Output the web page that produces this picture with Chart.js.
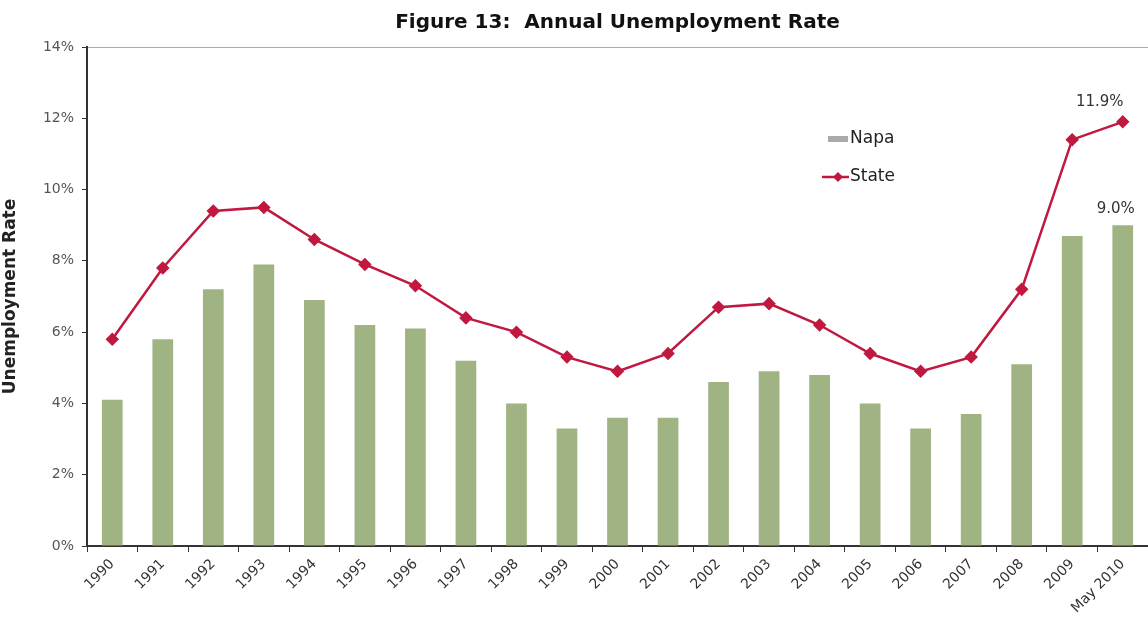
<!doctype html>
<html lang="en">
  <head>
    <meta charset="utf-8">
    <title>Annual Unemployment Rate</title>
    <style>
      * {
        margin: 0;
        padding: 0;
      }
      body {
        background: #ffffff;
      }
      .chartBox {
        width: 1148px;
        height: 632px;
      }
    </style>
  </head>
  <body>
    <div class="chartBox">
      <canvas id="myChart"></canvas>
    </div>
    <script src="https://cdn.jsdelivr.net/npm/chart.js"></script>
    <script>

    // data
    const years = ['1990','1991','1992','1993','1994','1995','1996','1997','1998','1999','2000',
                   '2001','2002','2003','2004','2005','2006','2007','2008','2009','May 2010'];
    const napa  = [4.1, 5.8, 7.2, 7.9, 6.9, 6.2, 6.1, 5.2, 4.0, 3.3, 3.6,
                   3.6, 4.6, 4.9, 4.8, 4.0, 3.3, 3.7, 5.1, 8.7, 9.0];
    const state = [5.8, 7.8, 9.4, 9.5, 8.6, 7.9, 7.3, 6.4, 6.0, 5.3, 4.9,
                   5.4, 6.7, 6.8, 6.2, 5.4, 4.9, 5.3, 7.2, 11.4, 11.9];
    const yTicks = [0, 2, 4, 6, 8, 10, 12, 14];

    const FONT = "'DejaVu Sans', sans-serif";
    const RED = '#c0183f';
    const GREEN = '#9fb482';

    // legend drawn inside the plot + value labels on the last points
    const extras = {
      id: 'extras',
      afterDatasetsDraw(chart) {
        const c = chart.ctx;
        const a = chart.chartArea;
        c.save();
        c.font = '17px ' + FONT;
        c.fillStyle = '#222';
        c.textBaseline = 'middle';

        // Napa swatch
        const lx = a.left + 741;
        c.fillStyle = '#aaaaaa';
        c.fillRect(lx, a.top + 89, 20, 6);
        c.fillStyle = '#222';
        c.fillText(chart.data.datasets[0].label, lx + 22, a.top + 92);

        // State swatch
        c.strokeStyle = RED;
        c.lineWidth = 2.5;
        c.beginPath();
        c.moveTo(lx - 6, a.top + 130);
        c.lineTo(lx + 21, a.top + 130);
        c.stroke();
        c.fillStyle = RED;
        c.beginPath();
        c.moveTo(lx + 10, a.top + 125);
        c.lineTo(lx + 15, a.top + 130);
        c.lineTo(lx + 10, a.top + 135);
        c.lineTo(lx + 5, a.top + 130);
        c.closePath();
        c.fill();
        c.fillStyle = '#222';
        c.fillText(chart.data.datasets[1].label, lx + 22, a.top + 130);

        // last-value labels
        c.font = '15px ' + FONT;
        c.fillStyle = '#333';
        c.textAlign = 'center';
        c.textBaseline = 'bottom';
        const last = years.length - 1;
        const sp = chart.getDatasetMeta(1).data[last];
        c.fillText(state[last].toFixed(1) + '%', sp.x - 23, sp.y - 12);
        const bp = chart.getDatasetMeta(0).data[last];
        c.fillText(napa[last].toFixed(1) + '%', bp.x - 7, bp.y - 9);
        c.restore();
      }
    };

    const data = {
      labels: years,
      datasets: [
        {
          type: 'bar',
          label: 'Napa',
          data: napa,
          backgroundColor: GREEN,
          barPercentage: 0.41,
          categoryPercentage: 1,
          order: 2
        },
        {
          type: 'line',
          label: 'State',
          data: state,
          borderColor: RED,
          backgroundColor: RED,
          borderWidth: 2.5,
          pointStyle: 'rectRot',
          pointRadius: 5,
          tension: 0,
          order: 1
        }
      ]
    };

    const scales = {
      x: {
        offset: true,
        grid: {
          offset: true,
          drawOnChartArea: false,
          tickLength: 6,
          tickColor: '#333'
        },
        border: { color: '#333', width: 2 },
        ticks: {
          minRotation: 45,
          maxRotation: 45,
          color: '#333',
          padding: 4,
          font: { family: FONT, size: 14 }
        },
        afterFit(scale) {
          scale.height = 86;
          scale.paddingLeft = 0;
          scale.paddingRight = 0;
        }
      },
      y: {
        min: 0,
        max: 14,
        afterBuildTicks(scale) { scale.ticks = yTicks.map(v => ({ value: v })); },
        grid: {
          color(ctx) { return ctx.tick && ctx.tick.value === 14 ? '#aaaaaa' : 'transparent'; },
          tickColor: '#333',
          tickLength: 5
        },
        border: { color: '#333', width: 2 },
        ticks: {
          color: '#555',
          padding: 8,
          font: { family: FONT, size: 14 },
          callback(v) { return v + '%'; }
        },
        title: {
          display: true,
          text: 'Unemployment Rate',
          color: '#222',
          font: { family: FONT, size: 17, weight: 'bold' },
          padding: { top: 0, bottom: 4 }
        },
        afterFit(scale) { scale.width = 87; }
      }
    };

    const config = {
      data,
      options: {
        responsive: true,
        maintainAspectRatio: false,
        animation: false,
        layout: { autoPadding: false, padding: { left: 0, right: -3, top: 0, bottom: 0 } },
        scales: scales,
        plugins: {
          legend: { display: false },
          tooltip: { enabled: false },
          title: {
            display: true,
            fullSize: false,
            text: 'Figure 13:  Annual Unemployment Rate',
            color: '#111',
            font: { family: FONT, size: 20, weight: 'bold' },
            padding: { top: 11, bottom: 12 }
          }
        }
      },
      plugins: [extras]
    };

    const myChart = new Chart(
      document.getElementById('myChart'),
      config
    );
    </script>
  </body>
</html>
